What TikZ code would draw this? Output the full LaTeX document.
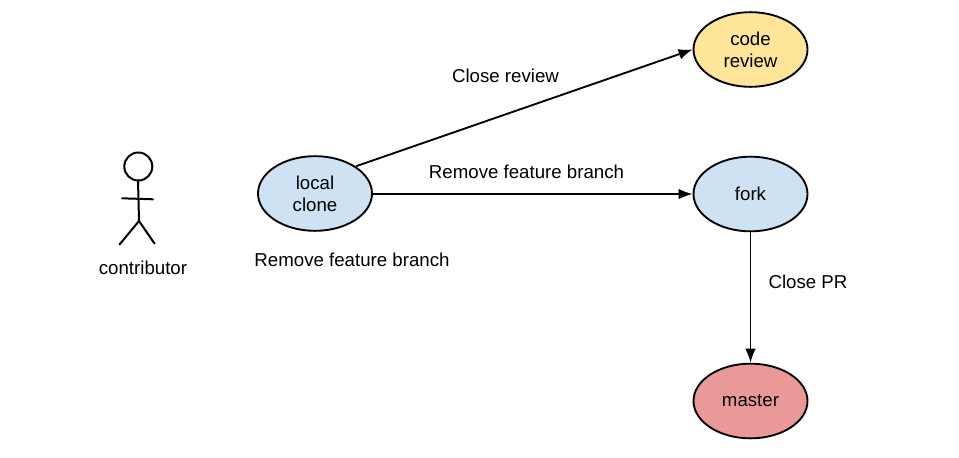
\documentclass[tikz,border=0pt]{standalone}
\usepackage{fontspec}
\setmainfont{Liberation Sans}
\usetikzlibrary{shapes.geometric,arrows.meta}
\definecolor{blueish}{HTML}{CFE2F3}
\definecolor{yellowish}{HTML}{FFE599}
\definecolor{reddish}{HTML}{EA9999}
\tikzset{
  x=0.75pt,y=-0.75pt,
  elli/.style={ellipse,draw=black,line width=1.4pt,minimum width=85.5pt,minimum height=56pt,inner sep=0pt,align=center,font=\fontsize{14pt}{16.5pt}\selectfont},
  lbl/.style={inner sep=0pt,font=\fontsize{14pt}{16.5pt}\selectfont},
  conn/.style={line width=1.4pt,-{Latex[length=10.5pt,width=8pt]}},
  fig/.style={line width=1.5pt,line cap=round}
}
\begin{document}
\begin{tikzpicture}
\useasboundingbox[fill=white] (0,0) rectangle (959,457);
\node[elli,fill=blueish] (clone) at (315,193.5) {\raisebox{-0.5pt}{\shortstack{local\\[3.3pt]clone}}};
\node[elli,fill=yellowish] (review) at (750.5,49.5) {\raisebox{-0.5pt}{\shortstack{code\\[3.3pt]review}}};
\node[elli,fill=blueish] (fork) at (750.5,194) {\raisebox{-1pt}{fork}};
\node[elli,fill=reddish] (master) at (750.5,401) {\raisebox{-1.5pt}{master}};
\draw[conn] (clone.east |- fork.west) -- (fork.west);
\draw[conn] (clone.35) ++(1.5,0.5) -- (review.west);
\draw[conn] (fork) -- (master);
\node[lbl] (l1) at (505.5,76) {Close review};
\node[lbl] (l2) at (526.5,171.5) {Remove feature branch};
\node[lbl] (l3) at (352,260) {Remove feature branch};
\node[lbl] (l4) at (808,282) {Close PR};
\node[lbl] (l5) at (143,268) {contributor};
\coordinate (neck) at (138,180);
\coordinate (hip) at (139,221);
\draw[fig,fill=white] (138.3,166.5) circle (14);
\draw[fig] (neck) -- (hip);
\draw[fig] (122,198.3) -- (153,199.3);
\draw[fig] (hip) -- (119.5,244.5);
\draw[fig] (hip) -- (154.5,243.5);
\end{tikzpicture}
\end{document}
